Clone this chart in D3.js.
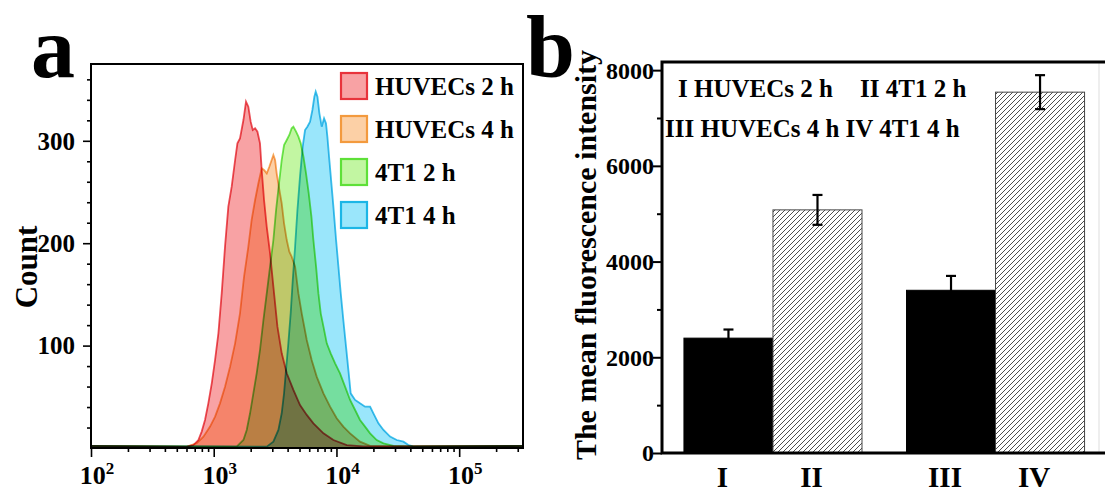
<!DOCTYPE html>
<html>
<head>
<meta charset="utf-8">
<script src="https://cdn.jsdelivr.net/npm/d3@7"></script>
<style>
  body { margin: 0; background: #fff; }
  text { font-family: "Times New Roman", "Liberation Serif", serif; font-weight: bold; fill: #000; }
</style>
</head>
<body>
<svg id="chart"></svg>
<script>
// ---- panel a : flow cytometry histograms (x = log10 intensity, y = count)
const huv2h = [[2.0,2],[2.78,1.3],[2.834,2.9],[2.875,7.8],[2.902,16],[2.929,27.4],[2.956,43.6],[2.984,63.2],[3.011,86],
  [3.038,112],[3.065,151],[3.092,196.6],[3.119,235.7],[3.146,255],[3.174,281],[3.193,297.5],[3.214,302.4],[3.242,320.3],
  [3.263,338.2],[3.282,333.3],[3.301,318.7],[3.318,310.5],[3.337,312.2],[3.356,308.9],[3.377,297.5],[3.391,271.5],
  [3.41,242.2],[3.432,216],[3.459,190],[3.486,157.6],[3.519,118.5],[3.554,92.5],[3.595,73],[3.649,56.7],[3.703,42],
  [3.758,32.3],[3.812,24.1],[3.894,14.3],[3.975,7.8],[4.084,2.9],[4.22,1.5],[5.52,2]];
const huv4h = [[2.0,2],[2.78,1.3],[2.861,4.6],[2.916,11.1],[2.97,20.9],[3.011,30.6],[3.051,43.6],[3.092,59.9],[3.133,79.4],
  [3.174,102.2],[3.214,131.5],[3.247,167.3],[3.282,196.6],[3.309,222.7],[3.337,242.2],[3.364,258.5],[3.391,273.1],
  [3.41,271.5],[3.432,268.2],[3.453,274.7],[3.472,281.3],[3.486,286.1],[3.5,281.3],[3.513,268.2],[3.535,252],
  [3.554,238.9],[3.573,219.4],[3.595,203.1],[3.616,191.7],[3.635,186.9],[3.663,177.1],[3.69,151],[3.717,131.5],
  [3.758,105.5],[3.798,86],[3.839,69.7],[3.894,53.4],[3.948,40.4],[4.002,29],[4.056,20.9],[4.111,14.3],[4.192,6.2],
  [4.274,2],[4.41,1.5],[5.52,2]];
const t4t1_2h = [[2.0,2],[3.187,1.3],[3.242,7.8],[3.269,17.6],[3.296,33.9],[3.323,53.4],[3.35,72.9],[3.377,95.7],[3.405,125],
  [3.432,151],[3.459,177.1],[3.486,203.1],[3.508,232.4],[3.529,255.2],[3.554,281.3],[3.573,295.9],[3.595,300.8],
  [3.616,305.7],[3.635,312.2],[3.649,313.8],[3.671,308.9],[3.69,304],[3.709,297.5],[3.731,284.5],[3.752,268.2],
  [3.774,248.7],[3.796,225.9],[3.812,203.1],[3.834,177.1],[3.853,151],[3.872,131.5],[3.894,118.5],[3.921,102.2],
  [3.953,92.5],[3.989,82.7],[4.029,72.9],[4.07,59.9],[4.111,46.9],[4.152,37.1],[4.192,27.4],[4.233,20.9],[4.274,14.3],
  [4.328,7.8],[4.383,4.6],[4.464,2],[4.573,1.5],[5.52,2]];
const t4t1_4h = [[2.0,2],[3.432,1.3],[3.486,6.2],[3.527,17.6],[3.554,33.9],[3.573,53.4],[3.589,76.2],[3.608,102.2],[3.627,131.5],
  [3.644,164.1],[3.663,196.6],[3.682,232.4],[3.703,265],[3.725,294.3],[3.744,310.5],[3.763,313.8],[3.785,318.7],
  [3.804,330.1],[3.82,343.1],[3.831,348],[3.845,343.1],[3.861,326.8],[3.88,313.8],[3.899,321.9],[3.915,317],
  [3.926,304],[3.942,281.3],[3.961,255.2],[3.975,235.7],[3.997,203.1],[4.016,177.1],[4.035,151],[4.056,125],
  [4.078,99],[4.1,72.9],[4.116,53.4],[4.152,46.9],[4.192,43.6],[4.233,40.4],[4.274,40.4],[4.301,33.9],[4.342,24.1],
  [4.383,17.6],[4.437,11.1],[4.491,7.8],[4.546,6.2],[4.586,2.9],[4.627,1.5],[5.52,2]];
const seriesNames = ["HUVECs 2 h", "HUVECs 4 h", "4T1 2 h", "4T1 4 h"];
const seriesData = [huv2h, huv4h, t4t1_2h, t4t1_4h];
const seriesStroke = ["#e8333c", "#f39a3e", "#5ee038", "#1cb6e6"];
const seriesFill = ["#f8a2a4", "#fcd0a6", "#c2f6a2", "#9ae6fb"];
const countTicks = [100, 200, 300];
const decadeTicks = [2, 3, 4, 5];

// ---- panel b : mean fluorescence intensity
const barLabels = ["I", "II", "III", "IV"];
const barTime = ["2 h", "2 h", "4 h", "4 h"];
const barCell = ["HUVECs", "4T1", "HUVECs", "4T1"];
const barMean = [2400, 5080, 3400, 7540];
const barErr = [180, 312, 300, 355];
const mfiTicks = [0, 2000, 4000, 6000, 8000];

const width = 1105, height = 494;
const svg = d3.select("#chart").attr("width", width).attr("height", height);

// ================= panel a =================
const pa = { left: 91, right: 523, top: 64, bottom: 448 };
const x = d3.scaleLog().domain([100, Math.pow(10, 5.52)]).range([pa.left, pa.right]);
const y = d3.scaleLinear().domain([0, 375]).range([pa.bottom, pa.top]);

svg.append("clipPath").attr("id", "clipA")
  .append("rect").attr("x", pa.left).attr("y", pa.top)
  .attr("width", pa.right - pa.left).attr("height", pa.bottom - pa.top);

const area = d3.area()
  .x(d => x(Math.pow(10, d[0])))
  .y0(y(0))
  .y1(d => y(d[1]));
const line = d3.line()
  .x(d => x(Math.pow(10, d[0])))
  .y(d => y(d[1]));

const hist = svg.append("g").attr("clip-path", "url(#clipA)").style("isolation", "isolate");
hist.append("rect").attr("x", pa.left).attr("y", pa.top)
  .attr("width", pa.right - pa.left).attr("height", pa.bottom - pa.top).attr("fill", "#fff");
seriesData.forEach((s, i) => {
  hist.append("path").attr("d", area(s))
    .attr("fill", seriesFill[i]).style("mix-blend-mode", "multiply");
});
seriesData.forEach((s, i) => {
  hist.append("path").attr("d", line(s))
    .attr("fill", "none").attr("stroke", seriesStroke[i])
    .attr("stroke-width", 1.8).attr("stroke-opacity", 0.85)
    .style("mix-blend-mode", "multiply");
});

// axes
const majorX = decadeTicks.map(e => Math.pow(10, e));
const minorX = [];
decadeTicks.forEach(e => {
  for (let k = 2; k <= 9; k++) {
    const v = k * Math.pow(10, e);
    if (v <= x.domain()[1]) minorX.push(v);
  }
});
const gxMinor = svg.append("g").attr("transform", `translate(0,${pa.bottom})`)
  .call(d3.axisBottom(x).tickValues(minorX).tickSize(4).tickFormat(""));
const gxMajor = svg.append("g").attr("transform", `translate(0,${pa.bottom})`)
  .call(d3.axisBottom(x).tickValues(majorX).tickSize(9).tickFormat(""));
const minorY = d3.range(20, 375, 20).filter(v => v % 100 !== 0);
const gyMinor = svg.append("g").attr("transform", `translate(${pa.left},0)`)
  .call(d3.axisLeft(y).tickValues(minorY).tickSize(4).tickFormat(""));
const gyMajor = svg.append("g").attr("transform", `translate(${pa.left},0)`)
  .call(d3.axisLeft(y).tickValues(countTicks).tickSize(8).tickFormat(""));
[gxMinor, gxMajor, gyMinor, gyMajor].forEach(g => {
  g.select(".domain").remove();
  g.selectAll("line").attr("stroke", "#000").attr("stroke-width", 1.6);
});

svg.append("rect").attr("x", pa.left).attr("y", pa.top)
  .attr("width", pa.right - pa.left).attr("height", pa.bottom - pa.top)
  .attr("fill", "none").attr("stroke", "#000").attr("stroke-width", 2);

// tick labels
majorX.forEach((v, i) => {
  const t = svg.append("text").attr("x", x(v) + 6).attr("y", 484)
    .attr("text-anchor", "middle").style("font-size", "26px");
  t.append("tspan").text("10");
  t.append("tspan").attr("dy", -10).style("font-size", "17px").text(decadeTicks[i]);
});
countTicks.forEach(v => {
  svg.append("text").attr("x", pa.left - 16).attr("y", y(v)).attr("dy", "0.35em")
    .attr("text-anchor", "end").style("font-size", "25px").text(v);
});
svg.append("text")
  .attr("transform", `translate(37,267) rotate(-90)`)
  .attr("text-anchor", "middle").style("font-size", "31px").text("Count");

// legend
seriesNames.forEach((n, i) => {
  const cy = 86 + i * 43;
  svg.append("rect").attr("x", 341).attr("y", cy - 13).attr("width", 26).attr("height", 26)
    .attr("fill", seriesFill[i])
    .attr("stroke", seriesStroke[i]).attr("stroke-width", 2.2);
  svg.append("text").attr("x", 375).attr("y", cy + 9).style("font-size", "25px").text(n);
});

svg.append("text").attr("x", 31).attr("y", 77).style("font-size", "88px").text("a");

// ================= panel b =================
const pb = { left: 662, right: 1100, top: 62, bottom: 453 };
const yb = d3.scaleLinear().domain([0, 8170]).range([pb.bottom, pb.top]);
const xGroup = d3.scaleBand().domain(["2 h", "4 h"]).range([pb.left, pb.right])
  .paddingInner(0.2).paddingOuter(0.084).align(0.587);
const xCell = d3.scaleBand().domain(["HUVECs", "4T1"]).range([0, xGroup.bandwidth()]);

const defs = svg.append("defs");
const pat = defs.append("pattern").attr("id", "hatch").attr("patternUnits", "userSpaceOnUse")
  .attr("width", 5).attr("height", 5);
pat.append("rect").attr("width", 5).attr("height", 5).attr("fill", "#fff");
pat.append("path").attr("d", "M0,5 L5,0 M-1,1 L1,-1 M4,6 L6,4")
  .attr("stroke", "#3a3a3a").attr("stroke-width", 0.9);

const barX = i => xGroup(barTime[i]) + xCell(barCell[i]);
const bars = svg.append("g");
barMean.forEach((m, i) => {
  const hatched = barCell[i] === "4T1";
  bars.append("rect").attr("x", barX(i)).attr("y", yb(m))
    .attr("width", xCell.bandwidth()).attr("height", yb(0) - yb(m))
    .attr("fill", hatched ? "url(#hatch)" : "#000")
    .attr("stroke", hatched ? "#444" : "#000").attr("stroke-width", 1);
});
// error bars
barMean.forEach((m, i) => {
  const cx = barX(i) + xCell.bandwidth() / 2;
  const g = svg.append("g").attr("stroke", "#000").attr("stroke-width", 2.2);
  g.append("line").attr("x1", cx).attr("x2", cx).attr("y1", yb(m - barErr[i])).attr("y2", yb(m + barErr[i]));
  [m - barErr[i], m + barErr[i]].forEach(v => {
    g.append("line").attr("x1", cx - 5).attr("x2", cx + 5).attr("y1", yb(v)).attr("y2", yb(v));
  });
});

// axes panel b
const minorB = d3.range(1000, 8170, 2000);
const gbMinor = svg.append("g").attr("transform", `translate(${pb.left},0)`)
  .call(d3.axisLeft(yb).tickValues(minorB).tickSize(5).tickFormat(""));
const gbMajor = svg.append("g").attr("transform", `translate(${pb.left},0)`)
  .call(d3.axisLeft(yb).tickValues(mfiTicks).tickSize(9).tickFormat(""));
[gbMinor, gbMajor].forEach(g => {
  g.select(".domain").remove();
  g.selectAll("line").attr("stroke", "#000").attr("stroke-width", 2);
});
svg.append("line").attr("x1", pb.right - 1).attr("x2", pb.right - 1).attr("y1", pb.top).attr("y2", pb.bottom)
  .attr("stroke", "#ddd").attr("stroke-width", 1);
svg.append("path")
  .attr("d", `M${width},${pb.top} H${pb.left} V${pb.bottom} H${width}`)
  .attr("fill", "none").attr("stroke", "#000").attr("stroke-width", 3);

mfiTicks.forEach(v => {
  svg.append("text").attr("x", pb.left - 8).attr("y", yb(v)).attr("dy", "0.35em")
    .attr("text-anchor", "end").style("font-size", "24px").text(v);
});
barLabels.forEach((l, i) => {
  svg.append("text").attr("x", barX(i) + xCell.bandwidth() / 2 - 6).attr("y", 487)
    .attr("text-anchor", "middle").style("font-size", "29px").text(l);
});
svg.append("text")
  .attr("transform", `translate(596,255) rotate(-90)`)
  .attr("text-anchor", "middle").style("font-size", "30px").text("The mean fluorescence intensity");

// text legend
svg.append("text").attr("x", 678).attr("y", 97).style("font-size", "25px")
  .text(`${barLabels[0]} ${barCell[0]} ${barTime[0]}`);
svg.append("text").attr("x", 860).attr("y", 97).style("font-size", "25px")
  .text(`${barLabels[1]} ${barCell[1]} ${barTime[1]}`);
svg.append("text").attr("x", 665).attr("y", 137).style("font-size", "25px")
  .text(`${barLabels[2]} ${barCell[2]} ${barTime[2]} ${barLabels[3]} ${barCell[3]} ${barTime[3]}`);

svg.append("text").attr("x", 526).attr("y", 77).style("font-size", "88px").text("b");
</script>
</body>
</html>
